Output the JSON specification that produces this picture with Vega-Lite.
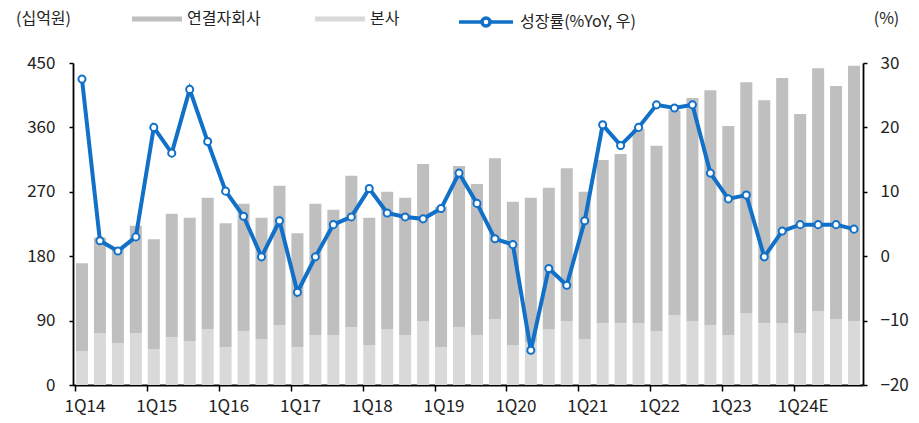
{
  "$schema": "https://vega.github.io/schema/vega-lite/v6.json",
  "width": 790,
  "height": 322,
  "autosize": {"type": "none"},
  "padding": {"left": 73, "top": 63, "right": 56, "bottom": 38},
  "background": "white",
  "config": {
    "view": {"stroke": null},
    "font": "Noto Sans CJK KR",
    "axis": {
      "grid": false,
      "domainColor": "#000000",
      "domainWidth": 1.8,
      "tickColor": "#000000",
      "tickWidth": 1.5,
      "labelFont": "Noto Sans CJK KR",
      "labelFontSize": 17,
      "labelColor": "#222222",
      "titleFont": "Noto Sans CJK KR",
      "titleFontSize": 16,
      "titleFontWeight": "normal",
      "titleColor": "#222222"
    },
    "legend": {
      "labelFont": "Noto Sans CJK KR",
      "labelFontSize": 16,
      "labelColor": "#222222"
    }
  },
  "data": {
    "values": [
      {"q": "1Q14", "본사": 47.5, "연결자회사": 122.5, "yoy": 27.5},
      {"q": "2Q14", "본사": 72.7, "연결자회사": 133.3, "yoy": 2.4},
      {"q": "3Q14", "본사": 58.7, "연결자회사": 132.3, "yoy": 0.8},
      {"q": "4Q14", "본사": 72.7, "연결자회사": 149.9, "yoy": 3.0},
      {"q": "1Q15", "본사": 50.3, "연결자회사": 153.3, "yoy": 20.0},
      {"q": "2Q15", "본사": 67.0, "연결자회사": 172.4, "yoy": 16.0},
      {"q": "3Q15", "본사": 61.5, "연결자회사": 172.3, "yoy": 25.9},
      {"q": "4Q15", "본사": 78.3, "연결자회사": 183.5, "yoy": 17.8},
      {"q": "1Q16", "본사": 53.0, "연결자회사": 173.0, "yoy": 10.1},
      {"q": "2Q16", "본사": 75.5, "연결자회사": 177.9, "yoy": 6.2},
      {"q": "3Q16", "본사": 64.3, "연결자회사": 169.5, "yoy": -0.1},
      {"q": "4Q16", "본사": 83.8, "연결자회사": 194.7, "yoy": 5.5},
      {"q": "1Q17", "본사": 53.0, "연결자회사": 159.0, "yoy": -5.6},
      {"q": "2Q17", "본사": 70.0, "연결자회사": 183.4, "yoy": -0.1},
      {"q": "3Q17", "본사": 70.0, "연결자회사": 175.0, "yoy": 4.9},
      {"q": "4Q17", "본사": 81.0, "연결자회사": 211.5, "yoy": 6.1},
      {"q": "1Q18", "본사": 56.0, "연결자회사": 177.8, "yoy": 10.5},
      {"q": "2Q18", "본사": 78.3, "연결자회사": 191.7, "yoy": 6.7},
      {"q": "3Q18", "본사": 70.0, "연결자회사": 191.8, "yoy": 6.1},
      {"q": "4Q18", "본사": 89.4, "연결자회사": 219.4, "yoy": 5.8},
      {"q": "1Q19", "본사": 53.0, "연결자회사": 196.0, "yoy": 7.4},
      {"q": "2Q19", "본사": 81.0, "연결자회사": 225.0, "yoy": 12.9},
      {"q": "3Q19", "본사": 70.0, "연결자회사": 211.0, "yoy": 8.2},
      {"q": "4Q19", "본사": 92.0, "연결자회사": 225.0, "yoy": 2.7},
      {"q": "1Q20", "본사": 56.0, "연결자회사": 200.0, "yoy": 1.8},
      {"q": "2Q20", "본사": 60.0, "연결자회사": 201.8, "yoy": -14.6},
      {"q": "3Q20", "본사": 78.3, "연결자회사": 197.4, "yoy": -1.9},
      {"q": "4Q20", "본사": 89.4, "연결자회사": 213.6, "yoy": -4.5},
      {"q": "1Q21", "본사": 64.3, "연결자회사": 205.7, "yoy": 5.5},
      {"q": "2Q21", "본사": 86.6, "연결자회사": 227.8, "yoy": 20.4},
      {"q": "3Q21", "본사": 86.6, "연결자회사": 236.2, "yoy": 17.2},
      {"q": "4Q21", "본사": 86.6, "연결자회사": 271.4, "yoy": 20.0},
      {"q": "1Q22", "본사": 75.5, "연결자회사": 259.0, "yoy": 23.5},
      {"q": "2Q22", "본사": 97.8, "연결자회사": 286.2, "yoy": 23.0},
      {"q": "3Q22", "본사": 89.4, "연결자회사": 311.6, "yoy": 23.5},
      {"q": "4Q22", "본사": 83.8, "연결자회사": 328.2, "yoy": 12.9},
      {"q": "1Q23", "본사": 70.0, "연결자회사": 292.0, "yoy": 8.9},
      {"q": "2Q23", "본사": 100.6, "연결자회사": 322.4, "yoy": 9.5},
      {"q": "3Q23", "본사": 86.6, "연결자회사": 311.4, "yoy": -0.1},
      {"q": "4Q23", "본사": 86.6, "연결자회사": 342.4, "yoy": 3.9},
      {"q": "1Q24E", "본사": 72.7, "연결자회사": 306.0, "yoy": 4.9},
      {"q": "2Q24E", "본사": 103.4, "연결자회사": 339.1, "yoy": 4.9},
      {"q": "3Q24E", "본사": 92.0, "연결자회사": 326.0, "yoy": 4.9},
      {"q": "4Q24E", "본사": 89.4, "연결자회사": 356.6, "yoy": 4.2}
    ]
  },
  "encoding": {
    "x": {
      "field": "q",
      "type": "ordinal",
      "sort": null,
      "scale": {"paddingInner": 0.33, "paddingOuter": 0.165},
      "axis": {
        "title": null,
        "labelAngle": 0,
        "values": ["1Q14", "1Q15", "1Q16", "1Q17", "1Q18", "1Q19", "1Q20", "1Q21", "1Q22", "1Q23", "1Q24E"],
        "bandPosition": 0,
        "labelOffset": 3,
        "tickSize": 6,
        "labelPadding": 7
      }
    }
  },
  "layer": [
    {
      "transform": [{"fold": ["본사", "연결자회사"], "as": ["series", "value"]}],
      "mark": {"type": "bar"},
      "encoding": {
        "y": {
          "field": "value",
          "type": "quantitative",
          "stack": "zero",
          "scale": {"domain": [0, 450], "nice": false},
          "axis": {
            "values": [0, 90, 180, 270, 360, 450],
            "tickSize": 4,
            "labelPadding": 14,
            "title": "(십억원)",
            "titleAngle": 0,
            "titleAlign": "center",
            "titleBaseline": "middle",
            "titleX": -30,
            "titleY": -45
          }
        },
        "color": {
          "field": "series",
          "type": "nominal",
          "scale": {"domain": ["연결자회사", "본사"], "range": ["#bfbfbf", "#d9d9d9"]},
          "legend": {
            "title": null,
            "orient": "none",
            "direction": "horizontal",
            "legendX": 59,
            "legendY": -69,
            "symbolType": "M-1,-0.1L1,-0.1L1,0.1L-1,0.1Z",
            "symbolSize": 2500,
            "symbolStrokeWidth": 0,
            "labelOffset": 5,
            "columnPadding": 54
          }
        },
        "order": {"field": "series", "sort": "ascending"}
      }
    },
    {
      "mark": {"type": "line", "strokeWidth": 4},
      "encoding": {
        "y": {
          "field": "yoy",
          "type": "quantitative",
          "scale": {"domain": [-20, 30], "nice": false},
          "axis": {
            "orient": "right",
            "values": [-20, -10, 0, 10, 20, 30],
            "tickSize": 4,
            "labelPadding": 13,
            "title": "(%)",
            "titleAngle": 0,
            "titleAlign": "center",
            "titleBaseline": "middle",
            "titleX": 23,
            "titleY": -45
          }
        },
        "stroke": {
          "datum": "성장률(%YoY, 우)",
          "type": "nominal",
          "scale": {"range": ["#1170c8"]},
          "legend": {
            "title": null,
            "orient": "none",
            "legendX": 384,
            "legendY": -70,
            "symbolType": "M-1,0L-0.15,0M0.15,0L1,0M-0.15,0A0.15,0.15,0,1,0,0.15,0A0.15,0.15,0,1,0,-0.15,0",
            "symbolSize": 2916,
            "symbolStrokeWidth": 3.5,
            "symbolFillColor": "white",
            "labelOffset": 5
          }
        }
      }
    },
    {
      "mark": {"type": "point", "filled": true, "fill": "white", "stroke": "#1170c8", "strokeWidth": 2, "size": 50, "opacity": 1},
      "encoding": {
        "y": {"field": "yoy", "type": "quantitative", "scale": {"domain": [-20, 30], "nice": false}, "axis": null}
      }
    }
  ],
  "resolve": {"scale": {"y": "independent", "color": "independent", "stroke": "independent"}}
}
